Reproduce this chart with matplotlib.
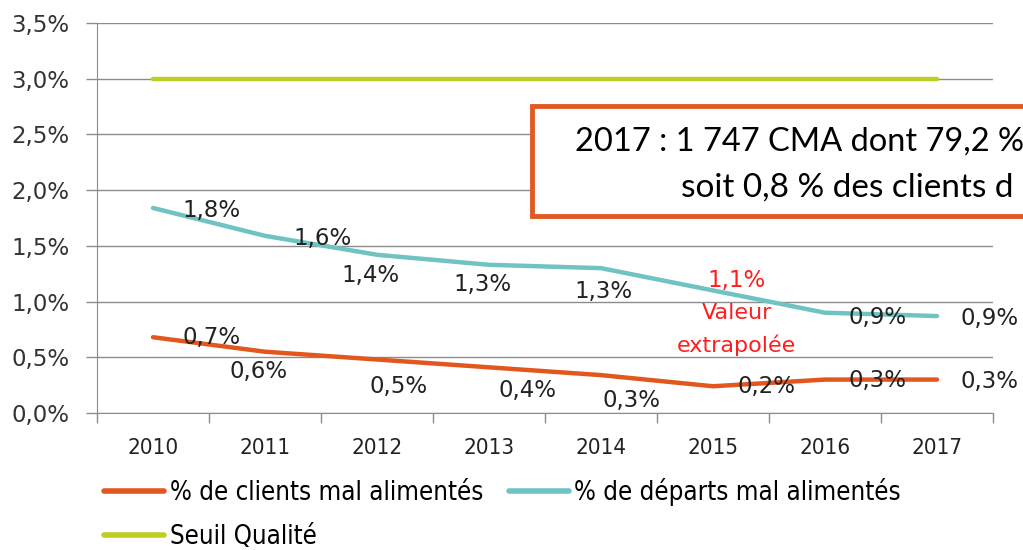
import matplotlib
matplotlib.use("Agg")
import matplotlib.pyplot as plt
from matplotlib.patches import Rectangle

years = ["2010", "2011", "2012", "2013", "2014", "2015", "2016", "2017"]
clients = [0.68, 0.55, 0.48, 0.41, 0.34, 0.24, 0.30, 0.30]
departs = [1.84, 1.59, 1.42, 1.33, 1.30, 1.10, 0.90, 0.87]
seuil = [3.0] * 8

clients_labels = ["0,7%", "0,6%", "0,5%", "0,4%", "0,3%", "0,2%", "0,3%", "0,3%"]
departs_labels = ["1,8%", "1,6%", "1,4%", "1,3%", "1,3%", "1,1%", "0,9%", "0,9%"]
y_ticks = [0, 0.5, 1.0, 1.5, 2.0, 2.5, 3.0, 3.5]
y_tick_labels = ["0,0%", "0,5%", "1,0%", "1,5%", "2,0%", "2,5%", "3,0%", "3,5%"]

# label placement (x index, y) -- placed by hand like in the source
clients_lab_pos = [(0.52, 0.68), (0.94, 0.37), (2.19, 0.24), (3.34, 0.20),
                   (4.27, 0.11), (5.48, 0.24), (6.47, 0.29), (7.47, 0.28)]
departs_lab_pos = [(0.52, 1.82), (1.51, 1.57), (1.94, 1.23), (2.94, 1.15),
                   (4.02, 1.09), (5.21, 1.19), (6.47, 0.86), (7.47, 0.85)]

ORANGE = "#E2571E"
TEAL = "#6FC3C3"
GREEN = "#BFCE25"
GRID = "#8C8C8C"
RED = "#FF1E1E"

narrow = {"family": "DejaVu Sans", "stretch": "condensed"}

fig = plt.figure(figsize=(10.23, 5.5), dpi=100)
ax = fig.add_axes([97 / 1023, 137 / 550, 896 / 1023, 390 / 550])

x = list(range(len(years)))
ax.plot(x, seuil, color=GREEN, lw=3.2, solid_capstyle="round", label="Seuil Qualité")
ax.plot(x, clients, color=ORANGE, lw=3.2, solid_capstyle="round",
        label="% de clients mal alimentés")
ax.plot(x, departs, color=TEAL, lw=3.2, solid_capstyle="round",
        label="% de départs mal alimentés")

for (lx, ly), txt in zip(clients_lab_pos, clients_labels):
    ax.text(lx, ly, txt, ha="center", va="center", fontsize=16.5, color="#222222")
for i, ((lx, ly), txt) in enumerate(zip(departs_lab_pos, departs_labels)):
    c = RED if years[i] == "2015" else "#222222"
    ax.text(lx, ly, txt, ha="center", va="center", fontsize=16.5, color=c)
ax.text(5.21, 0.90, "Valeur", ha="center", va="center", fontsize=16, color=RED)
ax.text(5.21, 0.61, "extrapolée", ha="center", va="center", fontsize=16, color=RED)

ax.set_xlim(-0.5, 7.5)
ax.set_ylim(0, 3.5)
ax.set_yticks(y_ticks)
ax.set_yticklabels(y_tick_labels, fontsize=16.5, color="#333333")
ax.yaxis.grid(True, color=GRID, lw=1)
ax.set_axisbelow(True)

ax.set_xticks(x)
ax.set_xticklabels(years, fontsize=16, color="#222222", **narrow)
ax.set_xticks([i - 0.5 for i in range(len(years) + 1)], minor=True)
ax.tick_params(axis="x", which="major", length=0, pad=18)
ax.tick_params(axis="x", which="minor", length=7, color=GRID, width=1)
ax.tick_params(axis="y", length=8, color=GRID, width=1, pad=12)

for s in ["top", "right"]:
    ax.spines[s].set_visible(False)
ax.spines["left"].set_color(GRID)
ax.spines["bottom"].set_color(GRID)

# text box, cut by the right edge like in the source
box = Rectangle((532 / 1023, (550 - 216) / 550), 600 / 1023, 110 / 550,
                transform=fig.transFigure, facecolor="white", edgecolor="#E05A24",
                lw=3.5, zorder=5)
fig.patches.append(box)
fig.text(575 / 1023, (550 - 142) / 550, "2017 : 1 747 CMA dont 79,2 %",
         fontsize=23.5, family="Lato", va="center", ha="left", zorder=6)
fig.text(681 / 1023, (550 - 188) / 550, "soit 0,8 % des clients d",
         fontsize=24, family="Lato", va="center", ha="left", zorder=6)

h, l = ax.get_legend_handles_labels()
order = [1, 0, 2]
leg = fig.legend([h[i] for i in order], [l[i] for i in order], ncol=2,
                 loc="upper left", bbox_to_anchor=(86 / 1023, 1 - 460 / 550),
                 frameon=False, prop={"size": 18.5, **narrow},
                 handlelength=2.35, handletextpad=0.2, columnspacing=1.0,
                 labelspacing=0.7, borderpad=0.2)
for lh in leg.get_lines():
    lh.set_linewidth(4)

fig.savefig("out.png", dpi=100)
plt.close(fig)
